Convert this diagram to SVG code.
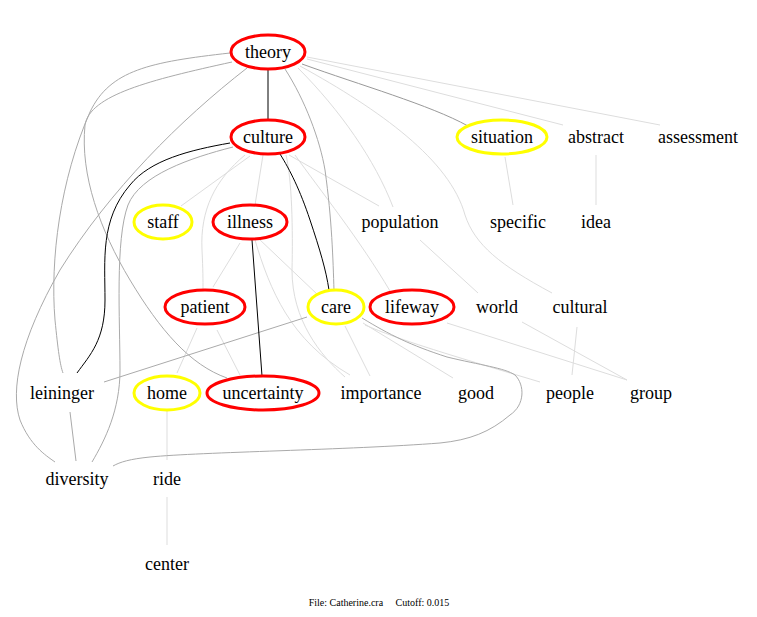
<svg xmlns="http://www.w3.org/2000/svg" width="757" height="617" viewBox="0 0 757 617">
<style>
text{font-family:"Liberation Serif","Times New Roman",serif;font-size:18px;fill:#000;text-anchor:middle}
.cap{font-size:10px}
.red{fill:none;stroke:#ff0000;stroke-width:3}
.yel{fill:none;stroke:#ffff00;stroke-width:3}
#edges path{fill:none;stroke-width:1}
.k{stroke:#000}
.g{stroke:#aaaaaa}
.d{stroke:#999999}
.l{stroke:#dddddd}
</style>
<rect width="757" height="617" fill="#fff"/>
<g id="edges">
<path class="l" d="M307,59 L563,125"/>
<path class="l" d="M307,57 L660,125"/>
<path class="l" d="M298,68 C340,110 375,160 393,207"/>
<path class="l" d="M300,66 C380,110 450,160 465,215 C475,245 500,265 552,293"/>
<path class="l" d="M420,240 L478,293"/>
<path class="l" d="M250,156 L181,206"/>
<path class="l" d="M245,155 C215,180 200,210 202,250 C203,270 203,280 203,290"/>
<path class="l" d="M263,155 L255,205"/>
<path class="l" d="M289,155 L379,206"/>
<path class="l" d="M295,155 C320,190 360,240 390,291"/>
<path class="l" d="M286,155 C292,180 293,230 292,270 C292,320 320,355 345,377"/>
<path class="l" d="M255,240 C270,290 290,340 350,375"/>
<path class="l" d="M258,238 L318,295"/>
<path class="l" d="M240,243 L213,287"/>
<path class="l" d="M197,328 L177,373"/>
<path class="l" d="M217,330 L240,375"/>
<path class="l" d="M345,326 L370,376"/>
<path class="l" d="M363,323 L453,378"/>
<path class="l" d="M365,325 C400,340 440,352 540,382"/>
<path class="l" d="M447,323 L627,380"/>
<path class="l" d="M522,322 L627,380"/>
<path class="l" d="M577,327 L572,375"/>
<path class="l" d="M505,157 L513,205"/>
<path class="l" d="M596,155 L596,205"/>
<path class="l" d="M167,411 L167,460"/>
<path class="l" d="M167,497 L167,545"/>
<path class="d" d="M302,64 C360,85 430,105 468,126"/>
<path class="g" d="M230,53 C150,62 110,70 90,112 C60,180 50,260 55,320 C58,350 60,365 63,373"/>
<path class="g" d="M232,62 C150,80 90,95 85,125 C80,175 100,230 130,280 C160,330 190,365 227,378"/>
<path class="g" d="M247,68 C180,120 110,190 60,270 C20,340 10,390 20,420 C30,445 45,455 55,462"/>
<path class="g" d="M233,147 C190,158 140,175 128,205 C115,240 120,320 120,370 C120,410 105,440 92,462"/>
<path class="g" d="M70,412 L76,461"/>
<path class="g" d="M307,317 L104,382"/>
<path class="g" d="M285,69 C305,100 320,140 325,170 C332,220 333,260 334,290"/>
<path class="g" d="M362,318 C390,335 410,345 447,357 C480,365 505,368 515,375 C525,385 525,405 510,415 C490,432 470,440 440,443 C350,450 200,452 150,457 C130,459 120,462 113,466"/>
<path class="k" d="M268,69 L268,120"/>
<path class="k" d="M230,143 C190,150 150,160 130,185 C100,220 105,260 105,300 C105,340 90,355 77,373"/>
<path class="k" d="M280,154 C290,170 300,190 310,220 C320,250 326,270 329,290"/>
<path class="k" d="M252,240 L262,376"/>
</g>
<g id="n-theory"><ellipse class="red" cx="268" cy="52" rx="37" ry="17"/><text x="268" y="58">theory</text></g>
<g id="n-culture"><ellipse class="red" cx="268" cy="137" rx="37" ry="17"/><text x="268" y="143">culture</text></g>
<g id="n-situation"><ellipse class="yel" cx="502" cy="137" rx="45" ry="17"/><text x="502" y="143">situation</text></g>
<g id="n-abstract"><text x="596" y="143">abstract</text></g>
<g id="n-assessment"><text x="698" y="143">assessment</text></g>
<g id="n-staff"><ellipse class="yel" cx="163" cy="222" rx="29" ry="17"/><text x="163" y="228">staff</text></g>
<g id="n-illness"><ellipse class="red" cx="250" cy="222" rx="37" ry="17"/><text x="250" y="228">illness</text></g>
<g id="n-population"><text x="400" y="228">population</text></g>
<g id="n-specific"><text x="518" y="228">specific</text></g>
<g id="n-idea"><text x="596" y="228">idea</text></g>
<g id="n-patient"><ellipse class="red" cx="205" cy="307" rx="40" ry="17"/><text x="205" y="313">patient</text></g>
<g id="n-care"><ellipse class="yel" cx="336" cy="307" rx="28" ry="17"/><text x="336" y="313">care</text></g>
<g id="n-lifeway"><ellipse class="red" cx="412" cy="307" rx="42" ry="17"/><text x="412" y="313">lifeway</text></g>
<g id="n-world"><text x="497" y="313">world</text></g>
<g id="n-cultural"><text x="580" y="313">cultural</text></g>
<g id="n-leininger"><text x="62" y="399">leininger</text></g>
<g id="n-home"><ellipse class="yel" cx="167" cy="393" rx="33" ry="17"/><text x="167" y="399">home</text></g>
<g id="n-uncertainty"><ellipse class="red" cx="263" cy="393" rx="56" ry="17"/><text x="263" y="399">uncertainty</text></g>
<g id="n-importance"><text x="381" y="399">importance</text></g>
<g id="n-good"><text x="476" y="399">good</text></g>
<g id="n-people"><text x="570" y="399">people</text></g>
<g id="n-group"><text x="651" y="399">group</text></g>
<g id="n-diversity"><text x="77" y="485">diversity</text></g>
<g id="n-ride"><text x="167" y="485">ride</text></g>
<g id="n-center"><text x="167" y="570">center</text></g>
<text class="cap" x="379" y="606" xml:space="preserve">File: Catherine.cra     Cutoff: 0.015</text>
</svg>
